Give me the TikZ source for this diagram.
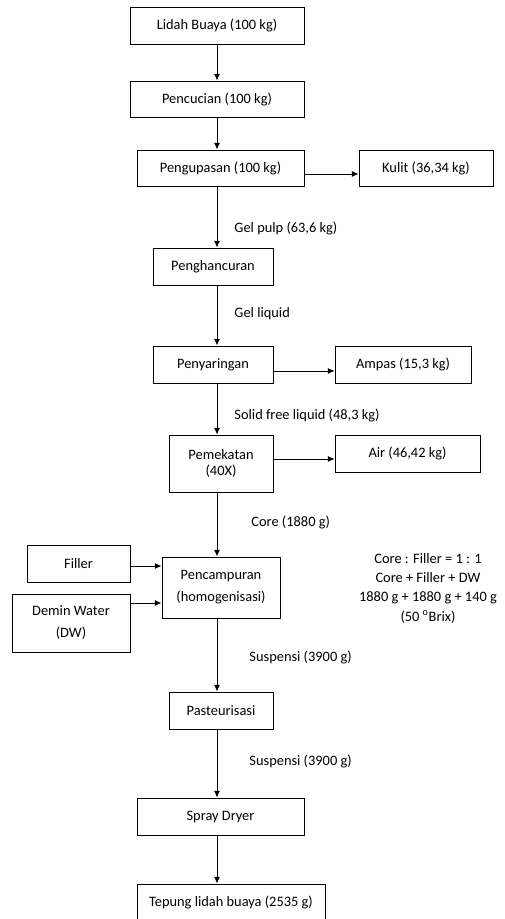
\documentclass[tikz,border=0pt]{standalone}
\usepackage{fontspec}
\setmainfont{Carlito}
\usetikzlibrary{arrows.meta, positioning}
\tikzset{
  box/.style={
    rectangle,
    draw,
    align=center,
    inner sep=0pt,
    minimum height=27.75pt,
    font=\fontsize{10.8}{13}\selectfont
  },
  lbl/.style={
    anchor=west,
    inner sep=0pt,
    font=\fontsize{10.8}{13}\selectfont
  },
  arrow/.style={-{Latex[length=5pt, width=4.5pt]}, line width=0.7pt}
}
\begin{document}
\begin{tikzpicture}[x=0.75pt, y=-0.75pt, line width=0.7pt]
  \useasboundingbox (0,0) rectangle (505,919);
  \coordinate (spine) at (217,0);

  % main line
  \node[box, minimum width=130.5pt] (lidah) at (217,25.5) {Lidah Buaya (100 kg)};
  \node[box, minimum width=130.5pt, minimum height=27pt] (cuci) at (217,99) {Pencucian (100 kg)};
  \node[box, minimum width=125.25pt, minimum height=27pt] (kupas) at (220.5,168) {Pengupasan (100 kg)};
  \node[box, minimum width=90pt] (hancur) at (213,266.5) {Penghancuran};
  \node[box, minimum width=90pt] (saring) at (213,364.5) {Penyaringan};
  \node[box, minimum width=78pt, minimum height=42.75pt,
        font=\fontsize{10.8}{12}\selectfont] (pekat) at (221,463.5) {Pemekatan\\(40X)};
  \node[box, minimum width=88.5pt, minimum height=45.75pt,
        font=\fontsize{10.8}{16.5}\selectfont] (campur) at (221,587.5) {Pencampuran\\(homogenisasi)};
  \node[box, minimum width=78pt] (pasteur) at (221,710.5) {Pasteurisasi};
  \node[box, minimum width=125.25pt] (spray) at (220.5,816.5) {Spray Dryer};
  \node[box, minimum width=141pt, minimum height=27pt] (tepung) at (231,902) {Tepung lidah buaya (2535 g)};

  % side streams
  \node[box, minimum width=100.5pt, minimum height=27pt] (kulit) at (426,168) {Kulit (36,34 kg)};
  \node[box, minimum width=102pt] (ampas) at (403,364.5) {Ampas (15,3 kg)};
  \node[box, minimum width=108.75pt] (air) at (407.5,453.5) {Air (46,42 kg)};
  \node[box, minimum width=77.25pt] (filler) at (78.5,563.5) {Filler};
  \node[box, minimum width=88.5pt, minimum height=43.5pt,
        font=\fontsize{10.8}{16.5}\selectfont] (demin) at (71,623) {Demin Water\\(DW)};

  % flow labels
  \node[lbl] (gelpulp) at (234,228) {Gel pulp (63,6 kg)};
  \node[lbl] (gelliq) at (234,314) {Gel liquid};
  \node[lbl] (solid) at (234,415) {Solid free liquid (48,3 kg)};
  \node[lbl] (core) at (251,522) {Core (1880 g)};
  \node[lbl] (susp1) at (249,657) {Suspensi (3900 g)};
  \node[lbl] (susp2) at (249,761) {Suspensi (3900 g)};
  \node[align=center, inner sep=0pt, font=\fontsize{10.8}{14.5}\selectfont] (note) at (428,588)
    {Core : Filler = 1 : 1\\Core + Filler + DW\\1880 g + 1880 g + 140 g\\(50 \textsuperscript{o}Brix)};

  \draw[arrow] (lidah.south -| spine) -- (cuci.north -| spine);
  \draw[arrow] (cuci.south -| spine) -- (kupas.north -| spine);
  \draw[arrow] (kupas.south -| spine) -- (hancur.north -| spine);
  \draw[arrow] (hancur.south -| spine) -- (saring.north -| spine);
  \draw[arrow] (saring.south -| spine) -- (pekat.north -| spine);
  \draw[arrow] (pekat.south -| spine) -- (campur.north -| spine);
  \draw[arrow] (campur.south -| spine) -- (pasteur.north -| spine);
  \draw[arrow] (pasteur.south -| spine) -- (spray.north -| spine);
  \draw[arrow] (spray.south -| spine) -- (tepung.north -| spine);

  \draw[arrow] ([yshift=-4.5pt]kupas.east) -- ([yshift=-4.5pt]kulit.west);
  \draw[arrow] ([yshift=-4.875pt]saring.east) -- ([yshift=-4.875pt]ampas.west);
  \draw[arrow] ([yshift=3.375pt]pekat.east) -- ([yshift=-4.125pt]air.west);
  \draw[arrow] ([yshift=-1.875pt]filler.east) -- ([yshift=16.125pt]campur.west);
  \draw[arrow] ([yshift=15pt]demin.east) -- ([yshift=-11.625pt]campur.west);
\end{tikzpicture}
\end{document}
